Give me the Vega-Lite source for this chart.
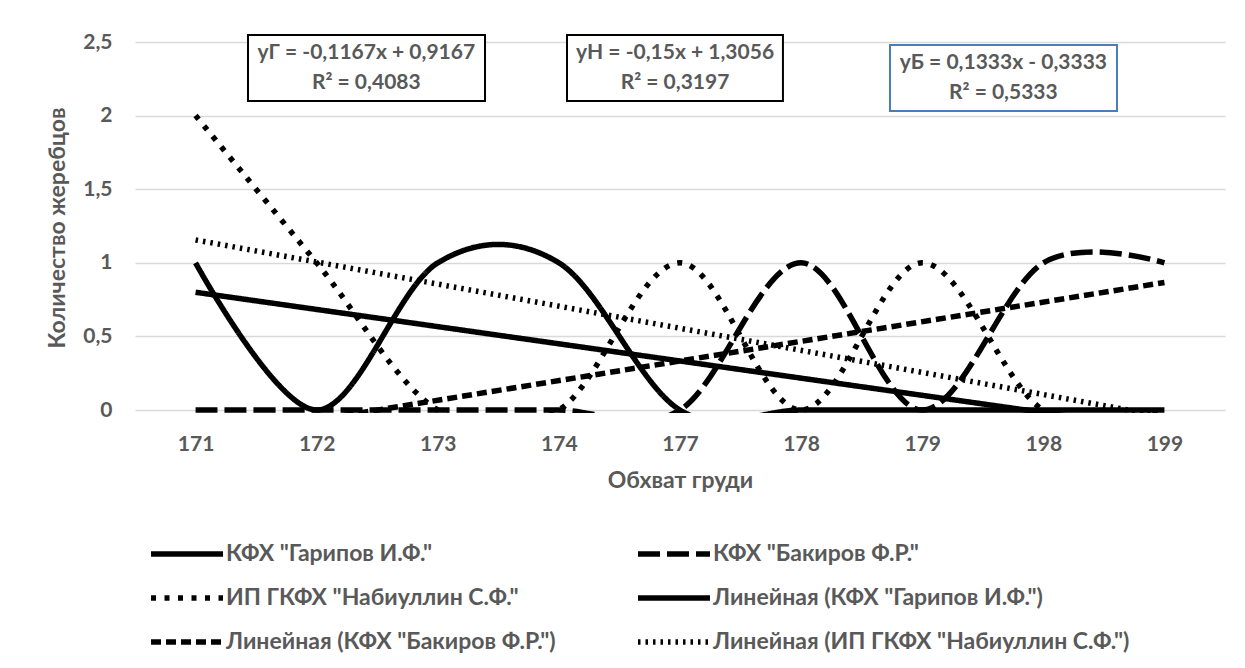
{
  "$schema": "https://vega.github.io/schema/vega-lite/v6.json",
  "width": 1090,
  "height": 371,
  "autosize": {"type": "none"},
  "padding": {"left": 135, "top": 42, "right": 20, "bottom": 255},
  "background": "white",
  "datasets": {
    "counts": [
      {"i": 1, "obhvat": "171", "series": "КФХ \"Гарипов И.Ф.\"", "trend": "Линейная (КФХ \"Гарипов И.Ф.\")", "value": 1},
      {"i": 2, "obhvat": "172", "series": "КФХ \"Гарипов И.Ф.\"", "trend": "Линейная (КФХ \"Гарипов И.Ф.\")", "value": 0},
      {"i": 3, "obhvat": "173", "series": "КФХ \"Гарипов И.Ф.\"", "trend": "Линейная (КФХ \"Гарипов И.Ф.\")", "value": 1},
      {"i": 4, "obhvat": "174", "series": "КФХ \"Гарипов И.Ф.\"", "trend": "Линейная (КФХ \"Гарипов И.Ф.\")", "value": 1},
      {"i": 5, "obhvat": "177", "series": "КФХ \"Гарипов И.Ф.\"", "trend": "Линейная (КФХ \"Гарипов И.Ф.\")", "value": 0},
      {"i": 6, "obhvat": "178", "series": "КФХ \"Гарипов И.Ф.\"", "trend": "Линейная (КФХ \"Гарипов И.Ф.\")", "value": 0},
      {"i": 7, "obhvat": "179", "series": "КФХ \"Гарипов И.Ф.\"", "trend": "Линейная (КФХ \"Гарипов И.Ф.\")", "value": 0},
      {"i": 8, "obhvat": "198", "series": "КФХ \"Гарипов И.Ф.\"", "trend": "Линейная (КФХ \"Гарипов И.Ф.\")", "value": 0},
      {"i": 9, "obhvat": "199", "series": "КФХ \"Гарипов И.Ф.\"", "trend": "Линейная (КФХ \"Гарипов И.Ф.\")", "value": 0},
      {"i": 1, "obhvat": "171", "series": "КФХ \"Бакиров Ф.Р.\"", "trend": "Линейная (КФХ \"Бакиров Ф.Р.\")", "value": 0},
      {"i": 2, "obhvat": "172", "series": "КФХ \"Бакиров Ф.Р.\"", "trend": "Линейная (КФХ \"Бакиров Ф.Р.\")", "value": 0},
      {"i": 3, "obhvat": "173", "series": "КФХ \"Бакиров Ф.Р.\"", "trend": "Линейная (КФХ \"Бакиров Ф.Р.\")", "value": 0},
      {"i": 4, "obhvat": "174", "series": "КФХ \"Бакиров Ф.Р.\"", "trend": "Линейная (КФХ \"Бакиров Ф.Р.\")", "value": 0},
      {"i": 5, "obhvat": "177", "series": "КФХ \"Бакиров Ф.Р.\"", "trend": "Линейная (КФХ \"Бакиров Ф.Р.\")", "value": 0},
      {"i": 6, "obhvat": "178", "series": "КФХ \"Бакиров Ф.Р.\"", "trend": "Линейная (КФХ \"Бакиров Ф.Р.\")", "value": 1},
      {"i": 7, "obhvat": "179", "series": "КФХ \"Бакиров Ф.Р.\"", "trend": "Линейная (КФХ \"Бакиров Ф.Р.\")", "value": 0},
      {"i": 8, "obhvat": "198", "series": "КФХ \"Бакиров Ф.Р.\"", "trend": "Линейная (КФХ \"Бакиров Ф.Р.\")", "value": 1},
      {"i": 9, "obhvat": "199", "series": "КФХ \"Бакиров Ф.Р.\"", "trend": "Линейная (КФХ \"Бакиров Ф.Р.\")", "value": 1},
      {"i": 1, "obhvat": "171", "series": "ИП ГКФХ \"Набиуллин С.Ф.\"", "trend": "Линейная (ИП ГКФХ \"Набиуллин С.Ф.\")", "value": 2},
      {"i": 2, "obhvat": "172", "series": "ИП ГКФХ \"Набиуллин С.Ф.\"", "trend": "Линейная (ИП ГКФХ \"Набиуллин С.Ф.\")", "value": 1},
      {"i": 3, "obhvat": "173", "series": "ИП ГКФХ \"Набиуллин С.Ф.\"", "trend": "Линейная (ИП ГКФХ \"Набиуллин С.Ф.\")", "value": 0},
      {"i": 4, "obhvat": "174", "series": "ИП ГКФХ \"Набиуллин С.Ф.\"", "trend": "Линейная (ИП ГКФХ \"Набиуллин С.Ф.\")", "value": 0},
      {"i": 5, "obhvat": "177", "series": "ИП ГКФХ \"Набиуллин С.Ф.\"", "trend": "Линейная (ИП ГКФХ \"Набиуллин С.Ф.\")", "value": 1},
      {"i": 6, "obhvat": "178", "series": "ИП ГКФХ \"Набиуллин С.Ф.\"", "trend": "Линейная (ИП ГКФХ \"Набиуллин С.Ф.\")", "value": 0},
      {"i": 7, "obhvat": "179", "series": "ИП ГКФХ \"Набиуллин С.Ф.\"", "trend": "Линейная (ИП ГКФХ \"Набиуллин С.Ф.\")", "value": 1},
      {"i": 8, "obhvat": "198", "series": "ИП ГКФХ \"Набиуллин С.Ф.\"", "trend": "Линейная (ИП ГКФХ \"Набиуллин С.Ф.\")", "value": 0},
      {"i": 9, "obhvat": "199", "series": "ИП ГКФХ \"Набиуллин С.Ф.\"", "trend": "Линейная (ИП ГКФХ \"Набиуллин С.Ф.\")", "value": 0}
    ],
    "boxes": [
      {"series": "Гарипов", "line1": "yГ = -0,1167x + 0,9167", "line2": "R² = 0,4083", "x1": 1.433, "x2": 3.39, "y1": 2.099, "y2": 2.548, "xc": 2.41, "yl1": 2.425, "yl2": 2.221},
      {"series": "Набиуллин", "line1": "yН = -0,15x + 1,3056", "line2": "R² = 0,3197", "x1": 4.067, "x2": 5.85, "y1": 2.099, "y2": 2.548, "xc": 4.959, "yl1": 2.425, "yl2": 2.221},
      {"series": "Бакиров", "line1": "yБ = 0,1333x - 0,3333", "line2": "R² = 0,5333", "x1": 6.734, "x2": 8.608, "y1": 2.031, "y2": 2.48, "xc": 7.67, "yl1": 2.357, "yl2": 2.154}
    ]
  },
  "layer": [
    {
      "data": {"name": "counts"},
      "mark": {"type": "line", "interpolate": "cardinal", "clip": true, "strokeCap": "butt", "color": "black"},
      "encoding": {
        "x": {"field": "i", "type": "quantitative", "title": "Обхват груди",
          "scale": {"domain": [0.5, 9.5], "nice": false, "zero": false},
          "axis": {"values": [1, 2, 3, 4, 5, 6, 7, 8, 9], "labelExpr": "['171','172','173','174','177','178','179','198','199'][datum.value - 1]"}},
        "y": {"field": "value", "type": "quantitative", "title": "Количество жеребцов",
          "scale": {"domain": [-0.02, 2.5], "nice": false, "zero": false},
          "axis": {"values": [0, 0.5, 1, 1.5, 2, 2.5], "labelExpr": "replace(format(datum.value, '~g'), '.', ',')"}},
        "strokeDash": {"field": "series", "type": "nominal",
          "scale": {"domain": ["КФХ \"Гарипов И.Ф.\"", "ИП ГКФХ \"Набиуллин С.Ф.\"", "Линейная (КФХ \"Бакиров Ф.Р.\")", "КФХ \"Бакиров Ф.Р.\"", "Линейная (КФХ \"Гарипов И.Ф.\")", "Линейная (ИП ГКФХ \"Набиуллин С.Ф.\")"],
                    "range": [[1, 0], [5, 8.5], [10, 5], [22, 7], [1, 0], [2.5, 5]]},
          "legend": {"encode": {"symbols": {"update": {"strokeWidth": {"signal": "indexof(['КФХ \"Гарипов И.Ф.\"', 'ИП ГКФХ \"Набиуллин С.Ф.\"', 'КФХ \"Бакиров Ф.Р.\"'], datum.value) >= 0 ? 5.5 : 2.5"}}}}}},
        "strokeWidth": {"field": "series", "type": "nominal", "legend": null,
          "scale": {"domain": ["КФХ \"Гарипов И.Ф.\"", "ИП ГКФХ \"Набиуллин С.Ф.\"", "Линейная (КФХ \"Бакиров Ф.Р.\")", "КФХ \"Бакиров Ф.Р.\"", "Линейная (КФХ \"Гарипов И.Ф.\")", "Линейная (ИП ГКФХ \"Набиуллин С.Ф.\")"],
                    "range": [5.5, 5.5, 2.5, 5.5, 2.5, 2.5]}}
      }
    },
    {
      "data": {"name": "counts"},
      "transform": [
        {"regression": "value", "on": "i", "groupby": ["trend"], "extent": [1, 9]},
        {"fold": ["trend"], "as": ["kind", "series"]}
      ],
      "mark": {"type": "line", "clip": true, "strokeCap": "butt", "color": "black"},
      "encoding": {
        "x": {"field": "i", "type": "quantitative", "title": "Обхват груди"},
        "y": {"field": "value", "type": "quantitative", "title": "Количество жеребцов"},
        "strokeDash": {"field": "series", "type": "nominal"},
        "strokeWidth": {"field": "series", "type": "nominal", "legend": null}
      }
    },
    {
      "data": {"name": "boxes"},
      "mark": {"type": "rect", "fill": "white", "strokeWidth": 2},
      "encoding": {
        "x": {"field": "x1", "type": "quantitative", "title": "Обхват груди"},
        "x2": {"field": "x2"},
        "y": {"field": "y1", "type": "quantitative", "title": "Количество жеребцов"},
        "y2": {"field": "y2"},
        "stroke": {"condition": {"test": "datum.series === 'Бакиров'", "value": "#4a7ebb"}, "value": "black"}
      }
    },
    {
      "data": {"name": "boxes"},
      "mark": {"type": "text", "font": "Lato", "fontWeight": "bold", "fontSize": 21, "color": "#595959", "align": "center", "baseline": "middle"},
      "encoding": {
        "x": {"field": "xc", "type": "quantitative", "title": "Обхват груди"},
        "y": {"field": "yl1", "type": "quantitative", "title": "Количество жеребцов"},
        "text": {"field": "line1"}
      }
    },
    {
      "data": {"name": "boxes"},
      "mark": {"type": "text", "font": "Lato", "fontWeight": "bold", "fontSize": 21, "color": "#595959", "align": "center", "baseline": "middle"},
      "encoding": {
        "x": {"field": "xc", "type": "quantitative", "title": "Обхват груди"},
        "y": {"field": "yl2", "type": "quantitative", "title": "Количество жеребцов"},
        "text": {"field": "line2"}
      }
    }
  ],
  "config": {
    "font": "Lato",
    "view": {"stroke": null},
    "axis": {"labelFont": "Lato", "labelFontWeight": "bold", "labelColor": "#595959", "titleFont": "Lato", "titleFontWeight": "bold", "titleColor": "#595959", "gridColor": "#d9d9d9", "gridWidth": 1.3, "ticks": false, "domain": false},
    "axisX": {"grid": false, "labelFontSize": 21, "labelPadding": 20, "titleFontSize": 23, "titlePadding": 15},
    "axisY": {"labelFontSize": 21, "labelPadding": 23, "titleFontSize": 23, "titlePadding": 13},
    "legend": {"orient": "none", "legendX": 13, "legendY": 497, "columns": 2, "title": null, "labelFont": "Lato", "labelFontWeight": "bold", "labelFontSize": 23, "labelColor": "#595959", "symbolType": "M-1,0H5", "symbolSize": 576, "symbolStrokeColor": "black", "labelOffset": 48, "rowPadding": 17, "columnPadding": 71, "labelLimit": 600}
  }
}
